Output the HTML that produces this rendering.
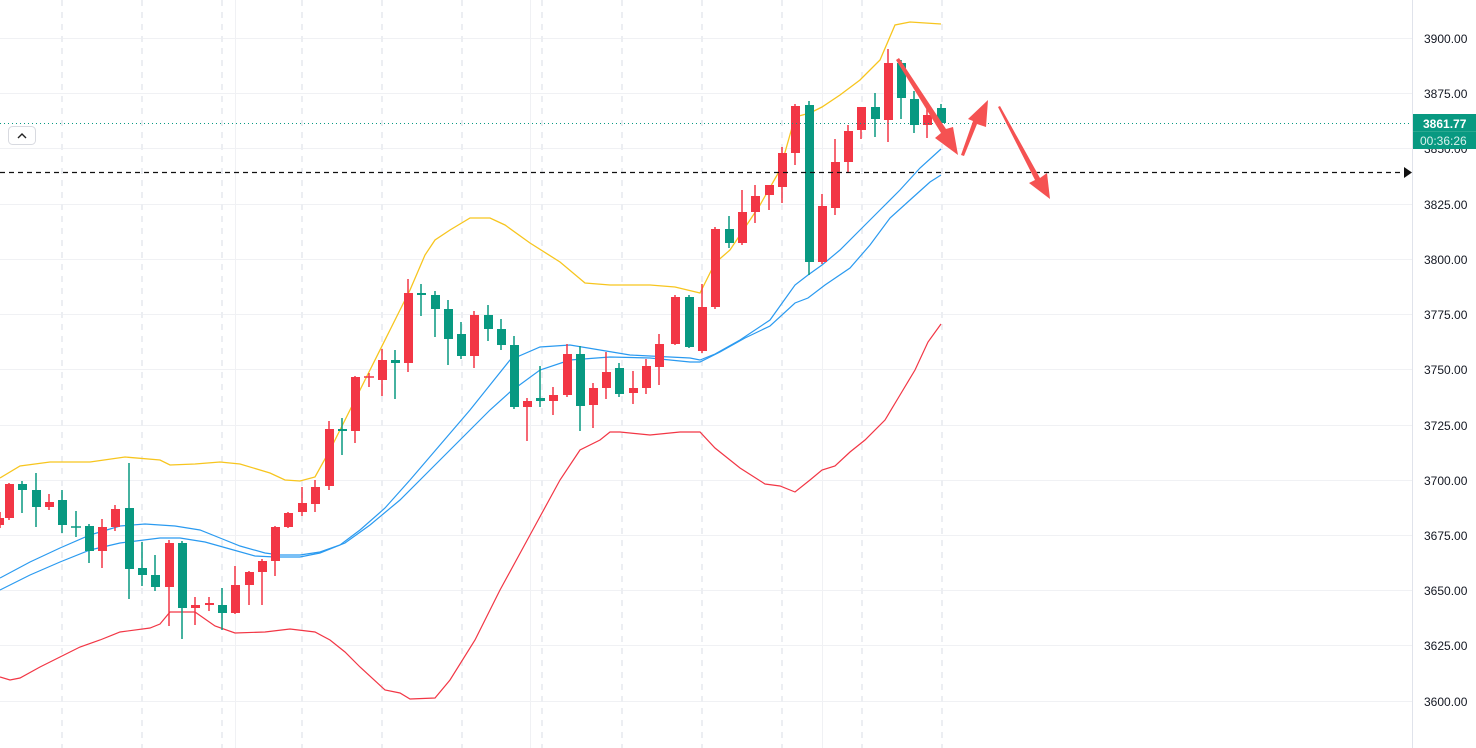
<!DOCTYPE html>
<html><head><meta charset="utf-8"><style>
html,body{margin:0;padding:0;background:#fff;}
svg{display:block;font-family:"Liberation Sans",sans-serif;}
</style></head><body>
<svg width="1476" height="748" viewBox="0 0 1476 748" xmlns="http://www.w3.org/2000/svg">
<rect width="1476" height="748" fill="#fff"/>
<g stroke="#f0f1f4" stroke-width="1">
<line x1="0" x2="1412" y1="38.5" y2="38.5"/><line x1="0" x2="1412" y1="93.5" y2="93.5"/><line x1="0" x2="1412" y1="148.5" y2="148.5"/><line x1="0" x2="1412" y1="204.5" y2="204.5"/><line x1="0" x2="1412" y1="259.5" y2="259.5"/><line x1="0" x2="1412" y1="314.5" y2="314.5"/><line x1="0" x2="1412" y1="369.5" y2="369.5"/><line x1="0" x2="1412" y1="425.5" y2="425.5"/><line x1="0" x2="1412" y1="480.5" y2="480.5"/><line x1="0" x2="1412" y1="535.5" y2="535.5"/><line x1="0" x2="1412" y1="590.5" y2="590.5"/><line x1="0" x2="1412" y1="645.5" y2="645.5"/><line x1="0" x2="1412" y1="701.5" y2="701.5"/>
<line x1="235.5" x2="235.5" y1="0" y2="748"/><line x1="530.5" x2="530.5" y1="0" y2="748"/><line x1="822.5" x2="822.5" y1="0" y2="748"/>
</g>
<g stroke="#eceef2" stroke-width="2" stroke-dasharray="6,6">
<line x1="62" x2="62" y1="0" y2="748"/><line x1="142" x2="142" y1="0" y2="748"/><line x1="222" x2="222" y1="0" y2="748"/><line x1="302" x2="302" y1="0" y2="748"/><line x1="382" x2="382" y1="0" y2="748"/><line x1="462" x2="462" y1="0" y2="748"/><line x1="542" x2="542" y1="0" y2="748"/><line x1="622" x2="622" y1="0" y2="748"/><line x1="702" x2="702" y1="0" y2="748"/><line x1="782" x2="782" y1="0" y2="748"/><line x1="862" x2="862" y1="0" y2="748"/><line x1="942" x2="942" y1="0" y2="748"/>
</g>
<polyline fill="none" stroke="#f7c51e" stroke-width="1.3" points="0,478 20,466 50,462 90,462 125,457 160,460 170,465 195,464 220,462 240,464 270,473 285,480 300,481 315,477 330,450 350,410 370,370 390,330 410,290 425,255 435,240 450,230 470,218 490,218 505,225 530,243 560,262 585,283 610,285 650,285 675,287 700,293 715,263 730,250 760,205 780,170 795,117 810,113 822,107 840,95 860,80 880,60 895,25 910,22 941,24"/>
<polyline fill="none" stroke="#f23645" stroke-width="1.2" points="0,677 10,680 20,678 40,667 70,652 80,647 100,640 120,632 150,628 160,624 170,612 195,612 205,619 215,626 235,633 265,632 290,629 315,632 330,640 345,652 360,667 385,690 400,693 410,699 435,698 450,680 475,640 500,590 530,535 560,480 580,450 600,440 610,432 620,432 650,435 680,432 700,432 715,448 740,468 765,484 780,486 795,492 810,480 822,470 835,466 850,452 865,440 885,420 900,395 915,370 928,342 941,324"/>
<polyline fill="none" stroke="#2a9af0" stroke-width="1.2" points="0,578 30,562 60,548 90,535 120,526 145,524 175,526 200,530 220,538 240,546 265,553 280,555 300,555 320,552 340,545 360,530 385,508 410,480 440,445 470,410 490,385 510,360 540,347 570,345 600,350 630,355 670,357 690,358 700,360 715,354 740,340 770,320 795,285 808,275 822,265 840,250 860,230 880,210 900,190 920,168 941,149"/>
<polyline fill="none" stroke="#2a9af0" stroke-width="1.2" points="0,590 30,575 60,562 90,550 120,543 160,538 180,538 205,542 230,549 255,556 275,557 300,557 320,553 345,543 370,525 400,500 430,470 460,440 490,410 510,392 540,370 570,360 610,357 650,358 690,362 700,362 720,352 745,338 770,326 795,303 808,298 825,285 850,268 870,245 890,218 910,200 930,182 941,175"/>
<g stroke-width="1.5">
<g fill="#f23645" stroke="#f23645">
<line x1="0" x2="0" y1="512" y2="528"/><rect x="-5" y="518" width="9" height="7" stroke="none"/>
<line x1="9" x2="9" y1="483" y2="520"/><rect x="5" y="484" width="9" height="34" stroke="none"/>
<line x1="49" x2="49" y1="494" y2="510"/><rect x="45" y="502" width="9" height="5" stroke="none"/>
<line x1="102" x2="102" y1="519" y2="568"/><rect x="98" y="527" width="9" height="24" stroke="none"/>
<line x1="115" x2="115" y1="505" y2="531"/><rect x="111" y="509" width="9" height="18" stroke="none"/>
<line x1="169" x2="169" y1="540" y2="626"/><rect x="165" y="543" width="9" height="44" stroke="none"/>
<line x1="195" x2="195" y1="597" y2="625"/><rect x="191" y="605" width="9" height="3" stroke="none"/>
<line x1="209" x2="209" y1="597" y2="611"/><rect x="205" y="603" width="9" height="2" stroke="none"/>
<line x1="235" x2="235" y1="566" y2="614"/><rect x="231" y="585" width="9" height="28" stroke="none"/>
<line x1="249" x2="249" y1="571" y2="605"/><rect x="245" y="572" width="9" height="13" stroke="none"/>
<line x1="262" x2="262" y1="559" y2="605"/><rect x="258" y="561" width="9" height="11" stroke="none"/>
<line x1="275" x2="275" y1="526" y2="576"/><rect x="271" y="527" width="9" height="34" stroke="none"/>
<line x1="288" x2="288" y1="512" y2="528"/><rect x="284" y="513" width="9" height="14" stroke="none"/>
<line x1="302" x2="302" y1="487" y2="516"/><rect x="298" y="503" width="9" height="9" stroke="none"/>
<line x1="315" x2="315" y1="480" y2="512"/><rect x="311" y="487" width="9" height="17" stroke="none"/>
<line x1="329" x2="329" y1="421" y2="490"/><rect x="325" y="429" width="9" height="57" stroke="none"/>
<line x1="355" x2="355" y1="376" y2="443"/><rect x="351" y="377" width="9" height="54" stroke="none"/>
<line x1="369" x2="369" y1="373" y2="387"/><line x1="364" x2="374" y1="377" y2="377"/>
<line x1="382" x2="382" y1="349" y2="396"/><rect x="378" y="360" width="9" height="20" stroke="none"/>
<line x1="408" x2="408" y1="279" y2="372"/><rect x="404" y="293" width="9" height="70" stroke="none"/>
<line x1="474" x2="474" y1="311" y2="368"/><rect x="470" y="315" width="9" height="41" stroke="none"/>
<line x1="527" x2="527" y1="398" y2="441"/><rect x="523" y="401" width="9" height="6" stroke="none"/>
<line x1="553" x2="553" y1="387" y2="415"/><rect x="549" y="395" width="9" height="6" stroke="none"/>
<line x1="567" x2="567" y1="344" y2="397"/><rect x="563" y="354" width="9" height="41" stroke="none"/>
<line x1="593" x2="593" y1="383" y2="428"/><rect x="589" y="388" width="9" height="17" stroke="none"/>
<line x1="606" x2="606" y1="352" y2="399"/><rect x="602" y="372" width="9" height="16" stroke="none"/>
<line x1="633" x2="633" y1="371" y2="404"/><rect x="629" y="388" width="9" height="5" stroke="none"/>
<line x1="646" x2="646" y1="359" y2="394"/><rect x="642" y="366" width="9" height="22" stroke="none"/>
<line x1="659" x2="659" y1="334" y2="385"/><rect x="655" y="344" width="9" height="23" stroke="none"/>
<line x1="675" x2="675" y1="295" y2="345"/><rect x="671" y="297" width="9" height="47" stroke="none"/>
<line x1="702" x2="702" y1="284" y2="353"/><rect x="698" y="307" width="9" height="44" stroke="none"/>
<line x1="715" x2="715" y1="227" y2="309"/><rect x="711" y="229" width="9" height="78" stroke="none"/>
<line x1="742" x2="742" y1="190" y2="245"/><rect x="738" y="212" width="9" height="31" stroke="none"/>
<line x1="755" x2="755" y1="185" y2="223"/><rect x="751" y="196" width="9" height="16" stroke="none"/>
<line x1="769" x2="769" y1="185" y2="210"/><rect x="765" y="185" width="9" height="10" stroke="none"/>
<line x1="782" x2="782" y1="147" y2="203"/><rect x="778" y="153" width="9" height="34" stroke="none"/>
<line x1="795" x2="795" y1="104" y2="165"/><rect x="791" y="106" width="9" height="47" stroke="none"/>
<line x1="822" x2="822" y1="194" y2="264"/><rect x="818" y="206" width="9" height="56" stroke="none"/>
<line x1="835" x2="835" y1="139" y2="215"/><rect x="831" y="162" width="9" height="46" stroke="none"/>
<line x1="848" x2="848" y1="125" y2="172"/><rect x="844" y="131" width="9" height="31" stroke="none"/>
<line x1="861" x2="861" y1="107" y2="139"/><rect x="857" y="107" width="9" height="23" stroke="none"/>
<line x1="888" x2="888" y1="49" y2="142"/><rect x="884" y="63" width="9" height="57" stroke="none"/>
<line x1="927" x2="927" y1="103" y2="138"/><rect x="923" y="115" width="9" height="10" stroke="none"/>
</g>
<g fill="#089981" stroke="#089981">
<line x1="22" x2="22" y1="481" y2="513"/><rect x="18" y="484" width="9" height="6" stroke="none"/>
<line x1="36" x2="36" y1="473" y2="527"/><rect x="32" y="490" width="9" height="17" stroke="none"/>
<line x1="62" x2="62" y1="490" y2="533"/><rect x="58" y="500" width="9" height="25" stroke="none"/>
<line x1="76" x2="76" y1="511" y2="537"/><line x1="71" x2="81" y1="527" y2="527"/>
<line x1="89" x2="89" y1="524" y2="563"/><rect x="85" y="526" width="9" height="25" stroke="none"/>
<line x1="129" x2="129" y1="463" y2="599"/><rect x="125" y="508" width="9" height="61" stroke="none"/>
<line x1="142" x2="142" y1="542" y2="586"/><rect x="138" y="568" width="9" height="7" stroke="none"/>
<line x1="155" x2="155" y1="555" y2="591"/><rect x="151" y="575" width="9" height="12" stroke="none"/>
<line x1="182" x2="182" y1="541" y2="639"/><rect x="178" y="543" width="9" height="65" stroke="none"/>
<line x1="222" x2="222" y1="588" y2="630"/><rect x="218" y="605" width="9" height="8" stroke="none"/>
<line x1="342" x2="342" y1="418" y2="455"/><rect x="338" y="429" width="9" height="2" stroke="none"/>
<line x1="395" x2="395" y1="350" y2="399"/><rect x="391" y="360" width="9" height="3" stroke="none"/>
<line x1="421" x2="421" y1="284" y2="316"/><rect x="417" y="293" width="9" height="2" stroke="none"/>
<line x1="435" x2="435" y1="291" y2="337"/><rect x="431" y="295" width="9" height="14" stroke="none"/>
<line x1="448" x2="448" y1="300" y2="365"/><rect x="444" y="309" width="9" height="30" stroke="none"/>
<line x1="461" x2="461" y1="322" y2="359"/><rect x="457" y="334" width="9" height="22" stroke="none"/>
<line x1="488" x2="488" y1="305" y2="341"/><rect x="484" y="315" width="9" height="14" stroke="none"/>
<line x1="501" x2="501" y1="319" y2="350"/><rect x="497" y="329" width="9" height="16" stroke="none"/>
<line x1="514" x2="514" y1="336" y2="409"/><rect x="510" y="345" width="9" height="62" stroke="none"/>
<line x1="540" x2="540" y1="366" y2="407"/><rect x="536" y="398" width="9" height="3" stroke="none"/>
<line x1="580" x2="580" y1="346" y2="431"/><rect x="576" y="354" width="9" height="52" stroke="none"/>
<line x1="619" x2="619" y1="363" y2="397"/><rect x="615" y="368" width="9" height="26" stroke="none"/>
<line x1="689" x2="689" y1="295" y2="348"/><rect x="685" y="297" width="9" height="50" stroke="none"/>
<line x1="729" x2="729" y1="216" y2="248"/><rect x="725" y="229" width="9" height="14" stroke="none"/>
<line x1="809" x2="809" y1="101" y2="275"/><rect x="805" y="105" width="9" height="157" stroke="none"/>
<line x1="875" x2="875" y1="93" y2="137"/><rect x="871" y="107" width="9" height="12" stroke="none"/>
<line x1="901" x2="901" y1="60" y2="119"/><rect x="897" y="63" width="9" height="35" stroke="none"/>
<line x1="914" x2="914" y1="91" y2="133"/><rect x="910" y="99" width="9" height="26" stroke="none"/>
<line x1="941" x2="941" y1="104" y2="125"/><rect x="937" y="108" width="9" height="15" stroke="none"/>
</g>
</g>
<line x1="0" x2="1412" y1="123.5" y2="123.5" stroke="#089981" stroke-width="1" stroke-dasharray="1,3"/>
<line x1="0" x2="1404" y1="172.5" y2="172.5" stroke="#111" stroke-width="1.2" stroke-dasharray="5,4"/>
<polygon points="1404,167 1412,172.5 1404,178" fill="#111"/>
<g fill="#f55252">
<polygon points="896,60 899,58 946,129 953,127 958,155 935,138 941,133"/>
<polygon points="961,155 964,156 977,124 986,127 988,100 968,119 973,121"/>
<polygon points="998,107 1000,106 1040,178 1047,173 1050,199 1029,183 1035,180"/>
</g>
<rect x="8.5" y="126.5" width="27" height="18" rx="4" fill="#fff" stroke="#d8dae0"/>
<polyline points="18,138 22,134 26,138" fill="none" stroke="#222" stroke-width="1.4"/>
<rect x="1412" y="0" width="64" height="748" fill="#fff"/>
<line x1="1412.5" x2="1412.5" y1="0" y2="748" stroke="#e0e3eb"/>
<g font-size="12" fill="#131722">
<text x="1424" y="43">3900.00</text><text x="1424" y="98">3875.00</text><text x="1424" y="153">3850.00</text><text x="1424" y="209">3825.00</text><text x="1424" y="264">3800.00</text><text x="1424" y="319">3775.00</text><text x="1424" y="374">3750.00</text><text x="1424" y="430">3725.00</text><text x="1424" y="485">3700.00</text><text x="1424" y="540">3675.00</text><text x="1424" y="595">3650.00</text><text x="1424" y="650">3625.00</text><text x="1424" y="706">3600.00</text>
</g>
<rect x="1413" y="114" width="63" height="35" fill="#089981"/>
<line x1="1413" x2="1476" y1="131.5" y2="131.5" stroke="#2aa890"/>
<text x="1423" y="128" font-size="12" fill="#fff" font-weight="bold">3861.77</text>
<text x="1420" y="145" font-size="12" fill="#d8f1ec">00:36:26</text>
</svg>
</body></html>
